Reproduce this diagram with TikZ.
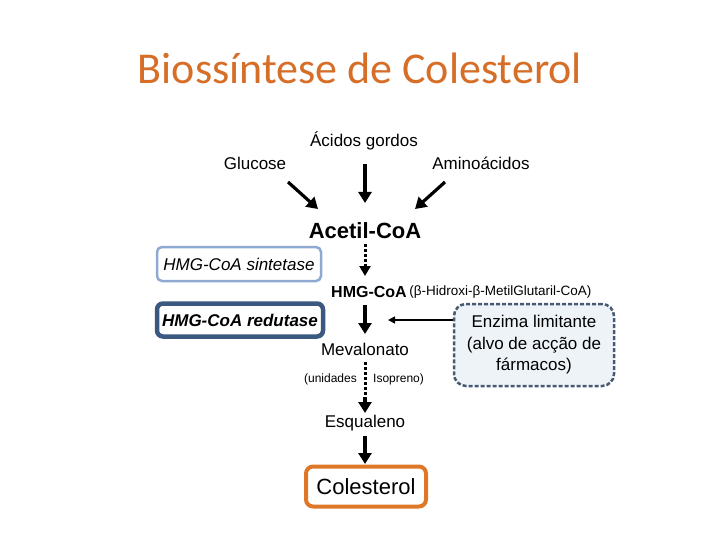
\documentclass[tikz,border=0pt]{standalone}
\usepackage{fontspec}
\setmainfont{Liberation Sans}
\newfontfamily\titlefont{Carlito}
\usetikzlibrary{arrows.meta}
\definecolor{titleorange}{RGB}{214,110,40}
\definecolor{lightblue}{RGB}{143,170,210}
\definecolor{darkblue}{RGB}{58,88,128}
\definecolor{dashblue}{RGB}{72,90,115}
\definecolor{boxfill}{RGB}{238,243,248}
\definecolor{orangebox}{RGB}{222,120,40}
\tikzset{
  txt/.style={inner sep=0pt, text=black},
  bigarrow/.style={line width=3.2pt, -{Triangle[length=11pt,width=13pt]}},
  dotarrow/.style={line width=3pt, dash pattern=on 3pt off 2pt, -{Triangle[length=10pt,width=11pt,sep=0pt]}},
  thinarrow/.style={line width=1.6pt, -{Triangle[length=7pt,width=7pt]}},
}
\begin{document}
\begin{tikzpicture}[x=1pt,y=-1pt]
\useasboundingbox (0,0) rectangle (720,540);
% title
\node[txt, text=titleorange, font=\titlefont\fontsize{44}{50}\selectfont] (title) at (360,68) {Biossíntese de Colesterol};
% sources
\node[txt, font=\fontsize{17}{20}\selectfont] (acidos) at (364,141) {Ácidos gordos};
\node[txt, font=\fontsize{17}{20}\selectfont] (glucose) at (255,163) {Glucose};
\node[txt, font=\fontsize{17}{20}\selectfont] (amino) at (481,163) {Aminoácidos};
\node[txt, font=\bfseries\fontsize{22}{26}\selectfont] (acetil) at (365,231) {Acetil-CoA};
\coordinate (g1) at (288,182); \coordinate (g2) at (318,209);
\coordinate (a1) at (365,164); \coordinate (a2) at (365,203);
\coordinate (m1) at (445,182); \coordinate (m2) at (415,209);
\draw[bigarrow] (g1) -- (g2);
\draw[bigarrow] (a1) -- (a2);
\draw[bigarrow] (m1) -- (m2);
% HMG-CoA
\node[txt, anchor=west, font=\bfseries\fontsize{16}{19}\selectfont] (hmg) at (331,292) {HMG-CoA};
\node[txt, anchor=west, font=\fontsize{13.5}{16}\selectfont] (hmgfull) at (hmg.east) {\,(β-Hidroxi-β-MetilGlutaril-CoA)};
\draw[dotarrow] (365,244) -- (365,276);
% sintetase box
\node[draw=lightblue, line width=2.5pt, rounded corners=5pt, minimum width=164pt, minimum height=34pt, inner sep=0pt, font=\itshape\fontsize{17}{20}\selectfont] (sint) at (239,264) {HMG-CoA sintetase};
% redutase box
\node[draw=darkblue, line width=4.5pt, rounded corners=6pt, minimum width=166pt, minimum height=33pt, inner sep=0pt, font=\bfseries\itshape\fontsize{17}{20}\selectfont] (red) at (240,320) {HMG-CoA redutase};
\draw[bigarrow] (365,305) -- (365,334);
% enzima box
\node[draw=dashblue, fill=boxfill, line width=2.5pt, dash pattern=on 4pt off 2pt, rounded corners=12pt, minimum width=160pt, minimum height=82pt, inner sep=0pt, align=center, font=\fontsize{17}{21.5}\selectfont] (enz) at (534,345) {Enzima limitante\\(alvo de acção de\\fármacos)};
\coordinate (enzarrow) at (388,320);
\draw[thinarrow] (enz.west |- enzarrow) -- (enzarrow);
% mevalonato
\node[txt, font=\fontsize{17}{20}\selectfont] (meva) at (365,349) {Mevalonato};
\node[txt, anchor=east, font=\fontsize{12}{14}\selectfont] (unid) at (357,379) {(unidades};
\node[txt, anchor=west, font=\fontsize{12}{14}\selectfont] (iso) at (373,379) {Isopreno)};
\draw[line width=3pt, dash pattern=on 3pt off 2pt] (365,362) -- (365,399);
\draw[bigarrow] (365,397) -- (365,413);
% esqualeno
\node[txt, font=\fontsize{17}{20}\selectfont] (esq) at (365,423) {Esqualeno};
\draw[bigarrow] (365,436) -- (365,464);
% colesterol
\node[draw=orangebox, line width=4pt, rounded corners=7pt, minimum width=120pt, minimum height=40pt, inner sep=0pt, font=\fontsize{22}{26}\selectfont] (col) at (366,486.5) {Colesterol};
\end{tikzpicture}
\end{document}
